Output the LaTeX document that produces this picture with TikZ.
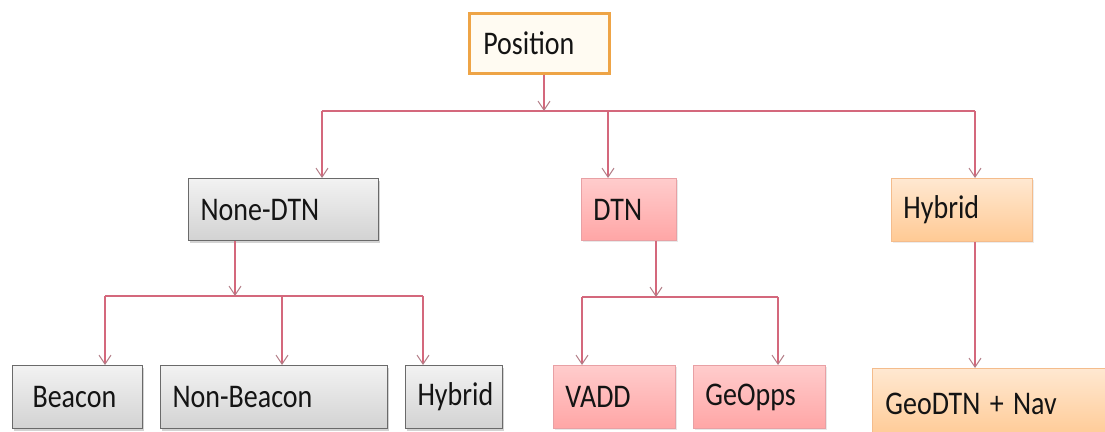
\documentclass[tikz,border=0pt]{standalone}
\usepackage{fontspec}
\setmainfont{Carlito}
\usetikzlibrary{arrows.meta,shadows}

\definecolor{wire}{HTML}{D4687C}
\definecolor{tipc}{HTML}{B27C86}
\definecolor{greyedge}{HTML}{6A6A6A}
\definecolor{pinkedge}{HTML}{E8A0A4}
\definecolor{peachedge}{HTML}{F4BC8C}
\definecolor{rootedge}{HTML}{EEA446}
\definecolor{rootfill}{HTML}{FFFBF2}

% labels are set slightly taller than wide
\newcommand{\lbl}[1]{\scalebox{1}[1.18]{#1}}

\tikzset{
  x=1pt, y=-1pt,
  box/.style={rectangle, anchor=north west, inner xsep=12pt, inner ysep=0pt,
    align=left, text=black!92, font=\fontsize{28}{30}\selectfont},
  rootbox/.style={box, draw=rootedge, line width=2.6pt, fill=rootfill, inner xsep=14pt},
  greybox/.style={box, draw=greyedge, line width=1.1pt,
    top color=gray!10, bottom color=gray!35,
    drop shadow={shadow xshift=1.5pt, shadow yshift=-2pt, opacity=0.35}},
  pinkbox/.style={box, draw=pinkedge, line width=0.9pt,
    top color=red!20, bottom color=red!35,
    drop shadow={shadow xshift=1.2pt, shadow yshift=-1.6pt, opacity=0.18}},
  peachbox/.style={box, draw=peachedge, line width=0.9pt,
    top color=orange!18, bottom color=orange!42,
    drop shadow={shadow xshift=1.2pt, shadow yshift=-1.6pt, opacity=0.15}},
  wireline/.style={draw=wire, line width=1.1pt},
  arrowline/.style={wireline, -{Straight Barb[length=9pt, width=12pt, line width=1pt, color=tipc]}},
}

\begin{document}
\begin{tikzpicture}
\useasboundingbox (0,0) rectangle (1105,431);

% level 0
\node[rootbox, text width=112pt, minimum height=60pt] (pos) at (468,12) {\lbl{Position}};

% level 1
\node[greybox, text width=166pt, minimum height=62pt] (nd) at (188,178) {\lbl{None-DTN}};
\node[pinkbox, text width=71pt, minimum height=62pt] (dtn) at (581,178) {\lbl{DTN}};
\node[peachbox, text width=117pt, minimum height=63pt] (hyb) at (891,178) {\lbl{Hybrid}};

% level 2
\node[greybox, inner xsep=20pt, text width=90pt, minimum height=63pt] (beacon) at (12,365) {\lbl{Beacon}};
\node[greybox, text width=203pt, minimum height=63pt] (nonb) at (160,365) {\lbl{Non-Beacon}};
\node[greybox, text width=73pt, minimum height=63pt] (hybb) at (405,365) {\lbl{Hybrid}};
\node[pinkbox, text width=98pt, minimum height=63pt] (vadd) at (553,365) {\lbl{VADD}};
\node[pinkbox, text width=108pt, minimum height=63pt] (geo) at (693,365) {\lbl{GeOpps}};
\node[peachbox, inner xsep=13pt, text width=234pt, minimum height=70pt] (gdtn) at (872,368) {\lbl{GeoDTN + Nav}};

% bus coordinates
\coordinate (t0) at (544,111);
\coordinate (tL) at (322,111);
\coordinate (tM) at (608,111);
\coordinate (tR) at (975,111);

\coordinate (a0) at (235,296);
\coordinate (aL) at (105,296);
\coordinate (aM) at (282,296);
\coordinate (aR) at (423,296);

\coordinate (d0) at (656,297);
\coordinate (dL) at (582,297);
\coordinate (dR) at (778,297);

\coordinate (hx) at (975,0);

% Position -> first level
\draw[wireline] (tL) -- (tR);
\draw[arrowline] (pos.south -| t0) -- (t0);
\draw[arrowline] (tL) -- (tL |- nd.north);
\draw[arrowline] (tM) -- (tM |- dtn.north);
\draw[arrowline] (tR) -- (tR |- hyb.north);

% None-DTN -> second level
\draw[wireline] (aL) -- (aR);
\draw[arrowline] (nd.south -| a0) -- (a0);
\draw[arrowline] (aL) -- (aL |- beacon.north);
\draw[arrowline] (aM) -- (aM |- nonb.north);
\draw[arrowline] (aR) -- (aR |- hybb.north);

% DTN -> second level
\draw[wireline] (dL) -- (dR);
\draw[arrowline] (dtn.south -| d0) -- (d0);
\draw[arrowline] (dL) -- (dL |- vadd.north);
\draw[arrowline] (dR) -- (dR |- geo.north);

% Hybrid -> GeoDTN + Nav
\draw[arrowline] (hyb.south -| hx) -- (gdtn.north -| hx);
\end{tikzpicture}
\end{document}
